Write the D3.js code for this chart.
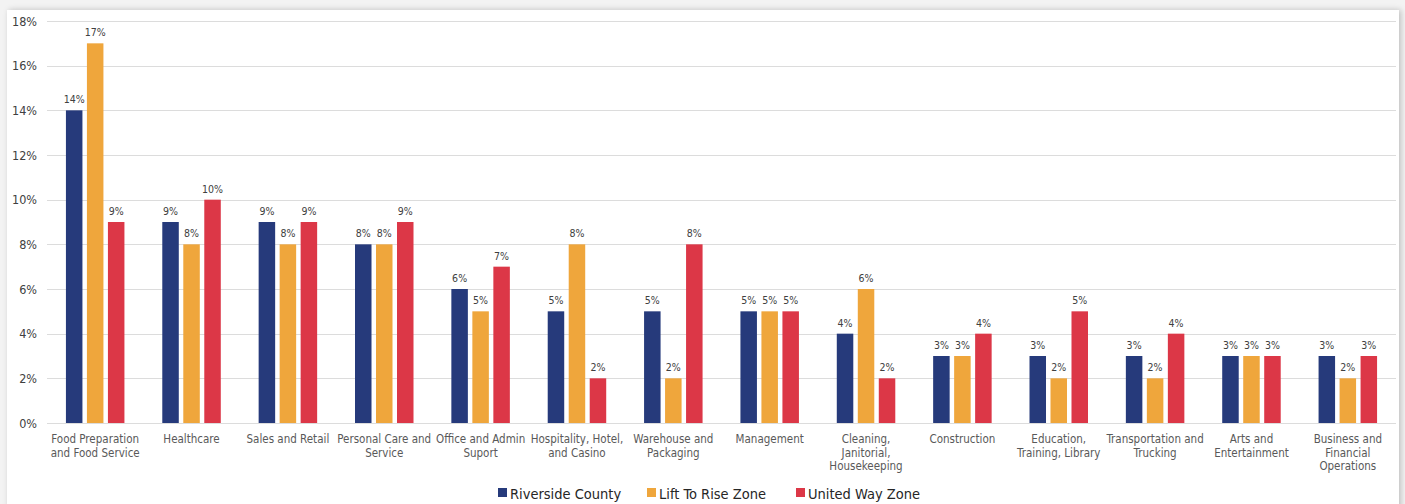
<!DOCTYPE html>
<html>
<head>
<meta charset="utf-8">
<script src="https://cdn.jsdelivr.net/npm/d3@7"></script>
<style>
  html, body { margin: 0; padding: 0; background: #f3f3f3; }
  body { width: 1405px; height: 504px; overflow: hidden; position: relative; }
  #card { position: absolute; left: 7px; top: 10px; width: 1392px; height: 500px; background: #fff;
          box-shadow: 2px 0 6px rgba(0,0,0,0.22); }
  svg { position: absolute; left: 0; top: 0; }
  text { font-family: "DejaVu Sans Condensed", "Noto Sans", "DejaVu Sans", sans-serif; }
</style>
</head>
<body>
<div id="card"></div>
<svg id="chart" width="1405" height="504"></svg>
<script>
const categories = [
  ["Food Preparation", "and Food Service"],
  ["Healthcare"],
  ["Sales and Retail"],
  ["Personal Care and", "Service"],
  ["Office and Admin", "Suport"],
  ["Hospitality, Hotel,", "and Casino"],
  ["Warehouse and", "Packaging"],
  ["Management"],
  ["Cleaning,", "Janitorial,", "Housekeeping"],
  ["Construction"],
  ["Education,", "Training, Library"],
  ["Transportation and", "Trucking"],
  ["Arts and", "Entertainment"],
  ["Business and", "Financial", "Operations"]
];
const seriesNames = ["Riverside County", "Lift To Rise Zone", "United Way Zone"];
const riverside = [14, 9, 9, 8, 6, 5, 5, 5, 4, 3, 3, 3, 3, 3];
const liftToRise = [17, 8, 8, 8, 5, 8, 2, 5, 6, 3, 2, 2, 3, 2];
const unitedWay = [9, 10, 9, 9, 7, 2, 8, 5, 2, 4, 5, 4, 3, 3];
const yTicks = [0, 2, 4, 6, 8, 10, 12, 14, 16, 18];
const colors = ["#263a7b", "#efa63c", "#dc3747"];

const series = [riverside, liftToRise, unitedWay];
const svg = d3.select("#chart");

const plot = { left: 47, right: 1396, top: 21, bottom: 423 };

const x0 = d3.scaleBand()
  .domain(d3.range(categories.length))
  .range([plot.left, plot.right])
  .padding(0);
const x1 = d3.scaleBand()
  .domain(d3.range(series.length))
  .range([-29.25, 29.25])
  .paddingInner(0.214)
  .paddingOuter(0);
const y = d3.scaleLinear().domain([0, 18]).range([plot.bottom, plot.top]);

// gridlines
svg.append("g").selectAll("line").data(yTicks).join("line")
  .attr("x1", plot.left).attr("x2", plot.right)
  .attr("y1", d => Math.round(y(d)) + 0.5).attr("y2", d => Math.round(y(d)) + 0.5)
  .attr("stroke", "#dcdcdc").attr("stroke-width", 1);

// y axis labels
const yAxis = d3.axisLeft(y).tickValues(yTicks).tickFormat(d => d + "%").tickSize(0).tickPadding(0);
const yg = svg.append("g").attr("transform", `translate(37,0)`).call(yAxis);
yg.select(".domain").remove();
yg.selectAll("text").attr("fill", "#404040").style("font-size", "12.5px")
  .style("font-family", '"DejaVu Sans Condensed", "Noto Sans", sans-serif');

// bars
const groups = svg.append("g").selectAll("g").data(categories.map((c, i) => i)).join("g")
  .attr("transform", i => `translate(${x0(i) + x0.bandwidth() / 2},0)`);

groups.selectAll("rect").data(i => series.map((s, k) => ({ k, v: s[i] }))).join("rect")
  .attr("x", d => x1(d.k))
  .attr("width", x1.bandwidth())
  .attr("y", d => y(d.v))
  .attr("height", d => y(0) - y(d.v))
  .attr("fill", d => colors[d.k]);

groups.selectAll("text.lbl").data(i => series.map((s, k) => ({ k, v: s[i] }))).join("text")
  .attr("class", "lbl")
  .attr("x", d => x1(d.k) + x1.bandwidth() / 2)
  .attr("y", d => y(d.v) - 7)
  .attr("text-anchor", "middle")
  .attr("fill", "#404040")
  .style("font-size", "10.5px")
  .text(d => d.v + "%");

// category labels
const xAxis = svg.append("g");
categories.forEach((lines, i) => {
  const t = xAxis.append("text")
    .attr("x", x0(i) + x0.bandwidth() / 2)
    .attr("y", 443)
    .attr("text-anchor", "middle")
    .attr("fill", "#595959")
    .style("font-size", "11.5px");
  lines.forEach((ln, j) => {
    t.append("tspan").attr("x", x0(i) + x0.bandwidth() / 2).attr("dy", j === 0 ? 0 : 13.5).text(ln);
  });
});

// legend
const legendX = [498, 647, 796];
const lg = svg.append("g");
seriesNames.forEach((n, k) => {
  lg.append("rect").attr("x", legendX[k]).attr("y", 488).attr("width", 9).attr("height", 9).attr("fill", colors[k]);
  lg.append("text").attr("x", legendX[k] + 12).attr("y", 498.5).attr("fill", "#262626")
    .style("font-size", "14.5px").text(n);
});
</script>
</body>
</html>
